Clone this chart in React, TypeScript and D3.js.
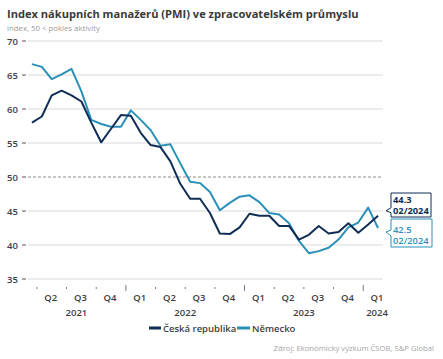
import * as d3 from "d3";

// months Mar 2021 .. Feb 2024
const months: string[] = [
  "2021-03", "2021-04", "2021-05", "2021-06", "2021-07", "2021-08", "2021-09", "2021-10", "2021-11", "2021-12",
  "2022-01", "2022-02", "2022-03", "2022-04", "2022-05", "2022-06", "2022-07", "2022-08", "2022-09", "2022-10", "2022-11", "2022-12",
  "2023-01", "2023-02", "2023-03", "2023-04", "2023-05", "2023-06", "2023-07", "2023-08", "2023-09", "2023-10", "2023-11", "2023-12",
  "2024-01", "2024-02",
];

const czech: number[] = [
  58.0, 58.9, 62.0, 62.7, 62.0, 61.1, 58.0, 55.1, 57.1, 59.1,
  59.0, 56.5, 54.7, 54.4, 52.3, 49.0, 46.8, 46.8, 44.7, 41.7, 41.6, 42.6,
  44.6, 44.3, 44.3, 42.8, 42.8, 40.8, 41.5, 42.8, 41.7, 41.9, 43.2, 41.8,
  43.0, 44.3,
];

const germany: number[] = [
  66.6, 66.2, 64.4, 65.1, 65.9, 62.6, 58.4, 57.8, 57.4, 57.4,
  59.8, 58.4, 56.9, 54.6, 54.8, 52.0, 49.3, 49.1, 47.8, 45.1, 46.2, 47.1,
  47.3, 46.3, 44.7, 44.5, 43.2, 40.6, 38.8, 39.1, 39.6, 40.8, 42.6, 43.3,
  45.5, 42.5,
];

const yTicks: number[] = [35, 40, 45, 50, 55, 60, 65, 70];
const quarterLabels: string[] = ["Q2", "Q3", "Q4", "Q1", "Q2", "Q3", "Q4", "Q1", "Q2", "Q3", "Q4", "Q1"];
const quarterStarts: string[] = [
  "2021-04", "2021-07", "2021-10", "2022-01", "2022-04", "2022-07", "2022-10",
  "2023-01", "2023-04", "2023-07", "2023-10", "2024-01",
];
const yearLabels: string[] = ["2021", "2022", "2023", "2024"];
const yearPositions: string[] = ["2021-08", "2022-07", "2023-07", "2024-02"];

const NAVY = "#0f2d55";
const TEAL = "#2a90b8";
const FONT = "'Open Sans', 'Noto Sans', sans-serif";

export default function App() {
  const width = 443;
  const height = 359;

  const x = d3.scaleBand<string>().domain(months).range([27, 383]);
  const y = d3.scaleLinear().domain([35, 70]).range([279, 41]);
  const cx = (m: string) => (x(m) ?? 0) + x.bandwidth() / 2;

  const line = d3
    .line<number>()
    .x((_, i) => cx(months[i]))
    .y((d) => y(d));

  const lastM = months[months.length - 1];
  const czLast = czech[czech.length - 1];
  const deLast = germany[germany.length - 1];

  return (
    <svg
      width={width}
      height={height}
      style={{ position: "absolute", left: 0, top: 0, background: "#fff" }}
      fontFamily={FONT}
    >
      <text x={7} y={18} fontSize={11.1} fontWeight={700} fill="#3a3a3a">
        Index nákupních manažerů (PMI) ve zpracovatelském průmyslu
      </text>
      <text x={7} y={31} fontSize={7.8} fill="#9a9a9a">
        index, 50 &lt; pokles aktivity
      </text>

      {yTicks.map((t) => (
        <g key={t}>
          <line
            x1={28}
            x2={383}
            y1={y(t)}
            y2={y(t)}
            stroke={t === 50 ? "#8c8c8c" : "#d9d9d9"}
            strokeWidth={1}
            strokeDasharray={t === 50 ? "3,2" : undefined}
          />
          <line x1={22} x2={26} y1={y(t)} y2={y(t)} stroke="#555" strokeWidth={1} />
          <text x={7} y={y(t) + 3.5} fontSize={9.5} fontWeight={600} fill="#404040">
            {t}
          </text>
        </g>
      ))}

      {quarterStarts.map((m) => {
        const xx = x(m) ?? 0;
        const big = m.endsWith("-01");
        return (
          <line
            key={m}
            x1={xx}
            x2={xx}
            y1={big ? 285 : 287}
            y2={big ? 291 : 289}
            stroke="#777"
            strokeWidth={1}
          />
        );
      })}
      {quarterLabels.map((q, i) => {
        const start = x(quarterStarts[i]) ?? 0;
        const mid = i === quarterLabels.length - 1 ? cx(lastM) - 1 : start + x.bandwidth() * 1.4;
        return (
          <text key={i} x={mid} y={301} fontSize={9.5} fontWeight={600} fill="#404040" textAnchor="middle">
            {q}
          </text>
        );
      })}
      {yearLabels.map((yr, i) => (
        <text
          key={yr}
          x={yearPositions[i] === lastM ? cx(lastM) - 1 : x(yearPositions[i]) ?? 0}
          y={316}
          fontSize={9.5}
          fontWeight={600}
          fill="#404040"
          textAnchor="middle"
        >
          {yr}
        </text>
      ))}

      <path d={line(germany) ?? ""} fill="none" stroke={TEAL} strokeWidth={2} strokeLinejoin="round" />
      <path d={line(czech) ?? ""} fill="none" stroke={NAVY} strokeWidth={2} strokeLinejoin="round" />

      {/* end labels */}
      <path
        d={`M391,193 H431 V217 H391 V${y(czLast) - 3} L386,${y(czLast) - 5} L391,${y(czLast) - 8} Z`}
        fill="#fff"
        stroke={NAVY}
        strokeWidth={1}
      />
      <text x={393} y={203} fontSize={9.3} fontWeight={700} fill={NAVY}>
        {czLast.toFixed(1)}
      </text>
      <text x={393} y={214} fontSize={9.3} fontWeight={700} fill={NAVY}>
        02/2024
      </text>
      <path
        d={`M391,219 H432 V247 H391 V${y(deLast) + 8} L386,${y(deLast) + 4} L391,${y(deLast) + 2} Z`}
        fill="#fff"
        stroke={TEAL}
        strokeWidth={1}
      />
      <text x={393} y={233} fontSize={9.3} fontWeight={600} fill={TEAL}>
        {deLast.toFixed(1)}
      </text>
      <text x={393} y={244} fontSize={9.3} fontWeight={600} fill={TEAL}>
        02/2024
      </text>

      {/* legend */}
      <line x1={149} x2={161} y1={328} y2={328} stroke={NAVY} strokeWidth={3} />
      <text x={163} y={331.5} fontSize={9.5} fontWeight={600} fill="#404040">
        Česká republika
      </text>
      <line x1={237} x2={250} y1={328} y2={328} stroke={TEAL} strokeWidth={3} />
      <text x={252} y={331.5} fontSize={9.5} fontWeight={600} fill="#404040">
        Německo
      </text>

      <text x={434} y={351} fontSize={7.7} fill="#a6a6a6" textAnchor="end">
        Zdroj: Ekonomický výzkum ČSOB, S&amp;P Global
      </text>
    </svg>
  );
}
